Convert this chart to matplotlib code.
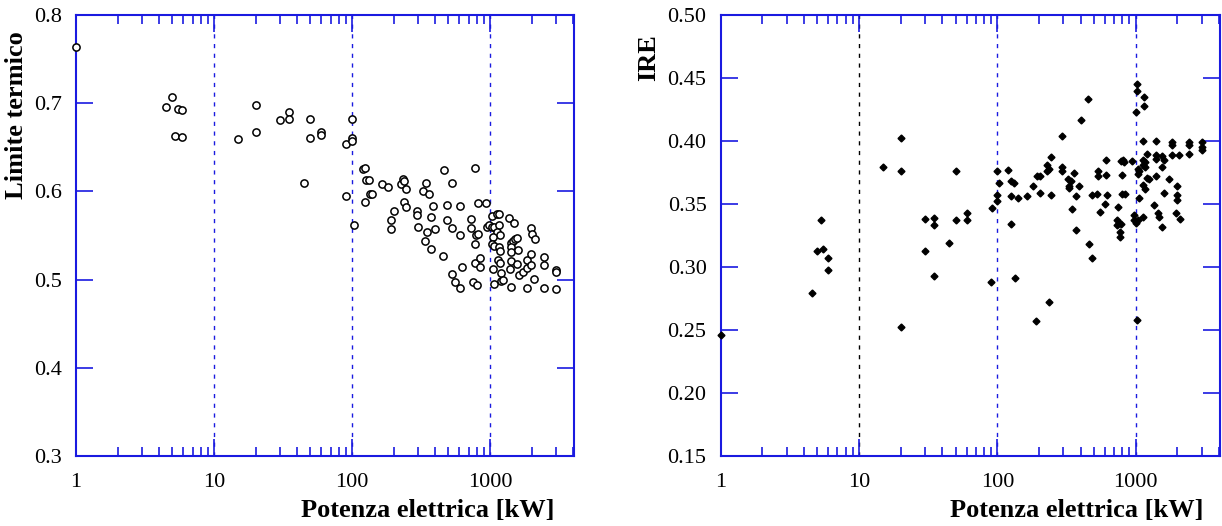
import matplotlib
matplotlib.use("Agg")
import matplotlib.pyplot as plt
from matplotlib.ticker import LogLocator, FixedLocator, NullFormatter

plt.rcParams['font.family'] = ['Liberation Serif', 'DejaVu Serif']

# limite termico vs potenza elettrica
lim_kw = [1, 5.0, 4.5, 5.5, 5.9, 5.2, 5.9, 15, 20, 20, 30, 35, 35, 50, 50, 60, 60, 45,
          90, 90, 100, 100, 100, 103, 121, 125, 126, 132, 125, 135, 140, 165, 182,
          228, 235, 238, 246, 238, 246, 201, 191, 193, 294, 294, 301, 348, 336, 376,
          329, 345, 363, 388, 376, 402, 454, 464, 531, 486, 486, 531, 606, 606, 627,
          531, 561, 606, 774, 819, 935, 732, 732, 797, 819, 774, 783, 847, 847, 756,
          808, 1033, 1119, 1156, 956, 979, 1033, 1068, 1167, 1119, 1181, 1045, 1033,
          1068, 1156, 1181, 1146, 1181, 1056, 1207, 1207, 1247, 1068, 1366, 1492,
          1427, 1476, 1525, 1577, 1427, 1427, 1596, 1427, 1577, 1396, 1614, 1427,
          1743, 1844, 1844, 1992, 1992, 1844, 2084, 1992, 2015, 2105, 2462, 2462,
          2462, 3000, 3000, 3000]
lim_val = [0.764, 0.707, 0.696, 0.693, 0.692, 0.663, 0.662, 0.659, 0.698, 0.667, 0.681,
           0.690, 0.682, 0.682, 0.660, 0.667, 0.664, 0.609, 0.654, 0.595, 0.682, 0.660,
           0.657, 0.562, 0.625, 0.627, 0.613, 0.613, 0.588, 0.597, 0.597, 0.608, 0.605,
           0.608, 0.614, 0.612, 0.603, 0.588, 0.582, 0.578, 0.568, 0.557, 0.578, 0.573,
           0.560, 0.554, 0.544, 0.535, 0.600, 0.609, 0.597, 0.583, 0.571, 0.557, 0.527,
           0.624, 0.610, 0.585, 0.568, 0.558, 0.583, 0.550, 0.514, 0.506, 0.497, 0.490,
           0.627, 0.587, 0.587, 0.569, 0.558, 0.550, 0.552, 0.540, 0.519, 0.524, 0.514,
           0.497, 0.494, 0.572, 0.574, 0.574, 0.560, 0.562, 0.560, 0.560, 0.562, 0.554,
           0.551, 0.548, 0.540, 0.538, 0.537, 0.532, 0.522, 0.519, 0.512, 0.507, 0.498,
           0.500, 0.495, 0.570, 0.564, 0.542, 0.544, 0.546, 0.547, 0.537, 0.531, 0.533,
           0.521, 0.518, 0.512, 0.505, 0.492, 0.509, 0.513, 0.522, 0.529, 0.516, 0.491,
           0.501, 0.558, 0.552, 0.546, 0.526, 0.516, 0.490, 0.511, 0.509, 0.489]

# IRE vs potenza elettrica
ire_kw = [1, 4.6, 5.0, 5.5, 5.3, 6.0, 6.0, 15, 20, 20, 20, 30, 30, 35, 35, 35, 45, 50,
          50, 60, 60, 90, 91, 100, 103, 100, 100, 120, 125, 132, 125, 125, 134, 141,
          164, 181, 192, 203, 203, 190, 227, 227, 237, 245, 245, 237, 292, 292, 292,
          323, 341, 330, 330, 357, 386, 345, 371, 371, 399, 455, 460, 481, 481, 526,
          530, 530, 607, 607, 621, 600, 556, 741, 728, 760, 785, 728, 767, 767, 778,
          807, 829, 801, 801, 835, 936, 966, 975, 1005, 1030, 1021, 1025, 1025, 1010,
          1156, 1156, 1129, 1410, 1820, 1820, 2425, 2425, 3000, 3000, 3000, 1820,
          2055, 2425, 1207, 1410, 1410, 1560, 1600, 1129, 1170, 1129, 1560, 1040,
          1040, 1060, 1170, 1207, 1240, 1410, 1740, 1120, 1170, 1986, 1590, 1986,
          1986, 1060, 1349, 1450, 1470, 1960, 2080, 1560, 1120]
ire_val = [0.246, 0.279, 0.313, 0.314, 0.337, 0.307, 0.298, 0.379, 0.402, 0.376, 0.252,
           0.338, 0.313, 0.339, 0.333, 0.293, 0.319, 0.376, 0.337, 0.343, 0.337, 0.288,
           0.347, 0.376, 0.367, 0.357, 0.352, 0.377, 0.368, 0.367, 0.356, 0.334, 0.291,
           0.355, 0.356, 0.364, 0.372, 0.372, 0.359, 0.257, 0.381, 0.376, 0.378, 0.387,
           0.357, 0.272, 0.404, 0.379, 0.376, 0.370, 0.368, 0.364, 0.363, 0.375, 0.364,
           0.346, 0.356, 0.329, 0.417, 0.433, 0.318, 0.307, 0.357, 0.358, 0.376, 0.372,
           0.385, 0.373, 0.357, 0.350, 0.344, 0.348, 0.337, 0.335, 0.334, 0.333, 0.328,
           0.324, 0.384, 0.385, 0.383, 0.373, 0.358, 0.358, 0.384, 0.341, 0.337, 0.335,
           0.337, 0.258, 0.445, 0.440, 0.423, 0.435, 0.428, 0.400, 0.400, 0.399, 0.397,
           0.399, 0.397, 0.399, 0.395, 0.393, 0.389, 0.389, 0.390, 0.390, 0.389, 0.386,
           0.388, 0.385, 0.385, 0.383, 0.381, 0.379, 0.378, 0.374, 0.376, 0.379, 0.371,
           0.370, 0.372, 0.370, 0.365, 0.362, 0.364, 0.359, 0.357, 0.353, 0.355, 0.349,
           0.343, 0.340, 0.343, 0.338, 0.332, 0.340]

x_ticks = [1, 10, 100, 1000]
x_labels = ["1", "10", "100", "1000"]
lim_ticks = [0.3, 0.4, 0.5, 0.6, 0.7, 0.8]
ire_ticks = [0.15, 0.20, 0.25, 0.30, 0.35, 0.40, 0.45, 0.50]

blue = '#1a1ae0'

fig = plt.figure(figsize=(12.22, 5.26), dpi=100)
ax1 = fig.add_axes([76/1222, 70/526, 498/1222, 441/526])
ax2 = fig.add_axes([720.5/1222, 70/526, 499.5/1222, 441/526])


def style_axis(ax, yticks, yfmt, vline_colors):
    ax.set_xscale('log')
    ax.set_xlim(1, 4060)
    ax.set_ylim(yticks[0], yticks[-1])
    for v, c in zip([10, 100, 1000], vline_colors):
        ax.axvline(v, color=c, ls=(0, (3, 4)), lw=1, zorder=1)
    ax.set_xticks(x_ticks)
    ax.set_xticklabels(x_labels)
    ax.xaxis.set_minor_locator(LogLocator(base=10, subs=range(2, 10), numticks=20))
    ax.xaxis.set_minor_formatter(NullFormatter())
    ax.set_yticks(yticks)
    ax.set_yticklabels([yfmt.format(t) for t in yticks])
    ax.yaxis.set_minor_locator(FixedLocator([]))
    ax.tick_params(which='major', direction='in', length=12, width=1.2, color=blue,
                   top=True, right=True, labelsize=16, pad=10)
    ax.tick_params(axis='x', which='major', pad=12)
    ax.tick_params(which='minor', direction='in', length=6.5, width=1.2, color=blue,
                   top=True, right=True)
    for s in ax.spines.values():
        s.set_color(blue)
        s.set_linewidth(1.5)


ax1.plot(lim_kw, lim_val, 'o', ms=5.2, mfc='white', mec='black', mew=1.1,
         clip_on=False, zorder=3)
style_axis(ax1, lim_ticks, "{:.1f}", [blue, blue, blue])

ax2.plot(ire_kw, ire_val, 'D', ms=3.5, color='black', clip_on=False, zorder=3)
style_axis(ax2, ire_ticks, "{:.2f}", ['black', blue, blue])

fig.text(428/1222, 1 - 511/526, "Potenza elettrica [kW]", ha='center', va='center',
         fontsize=19, fontweight='bold')
fig.text(1077/1222, 1 - 511/526, "Potenza elettrica [kW]", ha='center', va='center',
         fontsize=19, fontweight='bold')
fig.text(17/1222, 1 - 115/526, "Limite termico", ha='center', va='center',
         rotation=90, fontsize=19, fontweight='bold')
fig.text(649/1222, 1 - 58/526, "IRE", ha='center', va='center',
         rotation=90, fontsize=19, fontweight='bold')

fig.savefig("out.png", dpi=100)
